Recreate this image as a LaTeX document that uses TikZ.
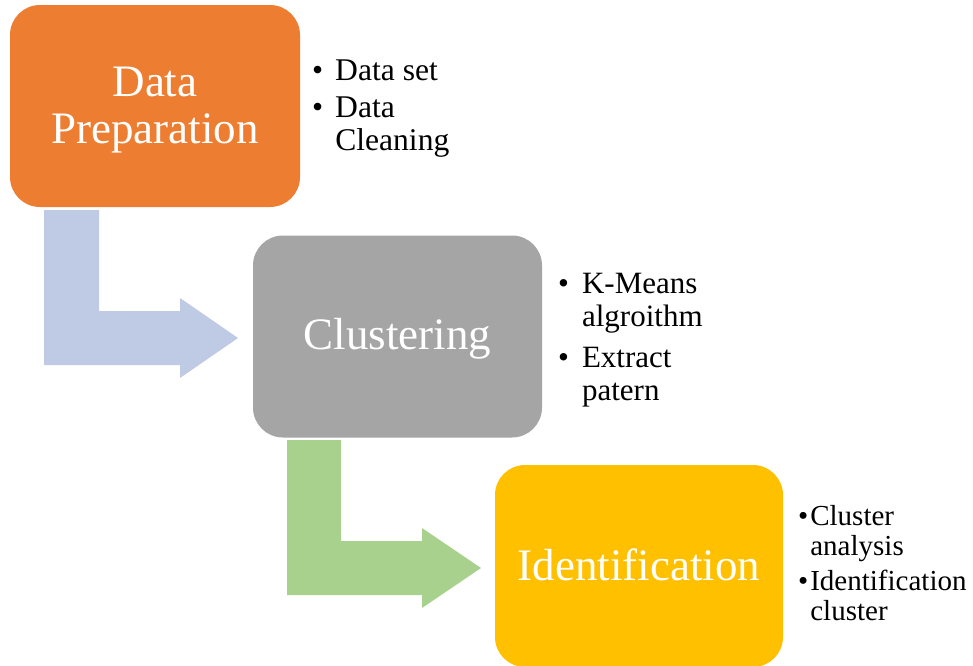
\documentclass[tikz,border=0pt]{standalone}
\usepackage{fontspec}
\setmainfont{Liberation Serif}
\definecolor{prepOrange}{HTML}{ED7D31}
\definecolor{clusGray}{HTML}{A5A5A5}
\definecolor{identGold}{HTML}{FFC000}
\definecolor{arrowBlue}{HTML}{BFCAE4}
\definecolor{arrowGreen}{HTML}{A9D18E}
\tikzset{
  stagebox/.style={rounded corners=30pt, minimum width=#1, minimum height=202pt,
    inner sep=0pt},
  stagebox/.default=290pt,
  stagetitle/.style={inner sep=0pt, text=white, align=center,
    font=\fontsize{45}{47}\selectfont},
  notes/.style={anchor=base west, inner sep=0pt, align=left}
}
\begin{document}
\begin{tikzpicture}[x=1pt,y=-1pt]
  \fill[white] (0,0) rectangle (973,665);
  \useasboundingbox (0,0) rectangle (973,665);

  % bent arrows leading from one stage to the next
  \fill[arrowBlue] (44,210) -- (99,210) -- (99,311) -- (180,311) -- (180,298)
    -- (238,338) -- (180,378) -- (180,365) -- (44,365) -- cycle;
  \fill[arrowGreen] (287,440) -- (341,440) -- (341,541) -- (422,541) -- (422,528)
    -- (481,568) -- (422,608) -- (422,595) -- (287,595) -- cycle;

  % stage boxes
  \node[stagebox, fill=prepOrange] (prep) at (155,106) {};
  \node[stagebox=289pt, fill=clusGray] (clus) at (397.5,336.5) {};
  \node[stagebox=288pt, fill=identGold] (ident) at (639,566) {};

  % stage titles
  \node[stagetitle] (preptitle) at ([yshift=-4pt]prep.center) {Data\\Preparation};
  \node[stagetitle] (clustitle) at ([yshift=-2pt]clus.center) {Clustering};
  \node[stagetitle] (identtitle) at ([yshift=1pt]ident.center) {Identification};

  % bullet notes
  \node[notes, font=\fontsize{31.6}{33}\selectfont] (prepnotes) at (312,80)
    {\begin{tabular}[t]{@{}l@{\hspace{12pt}}l@{}}
      \textbullet & Data set\\[4pt]
      \textbullet & Data\\
                  & Cleaning
    \end{tabular}};
  \node[notes, font=\fontsize{31}{33}\selectfont] (clusnotes) at (558,293)
    {\begin{tabular}[t]{@{}l@{\hspace{13pt}}l@{}}
      \textbullet & K-Means\\
                  & algroithm\\[8pt]
      \textbullet & Extract\\
                  & patern
    \end{tabular}};
  \node[notes, font=\fontsize{29}{30}\selectfont] (identnotes) at (798,525)
    {\begin{tabular}[t]{@{}l@{\hspace{2pt}}l@{}}
      \textbullet & Cluster\\
                  & analysis\\[5pt]
      \textbullet & Identification\\
                  & cluster
    \end{tabular}};
\end{tikzpicture}
\end{document}
